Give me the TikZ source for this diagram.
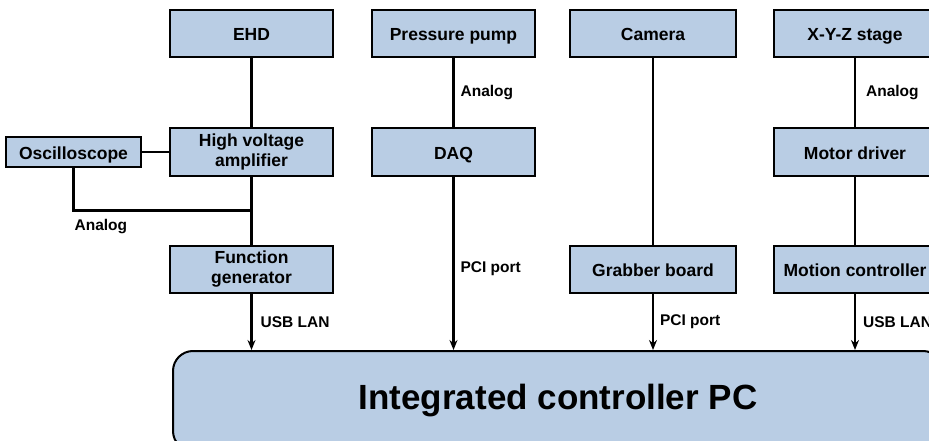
\documentclass[tikz,border=0pt]{standalone}
\usepackage{fontspec}
\setmainfont{Liberation Sans}
\usetikzlibrary{positioning,calc,arrows.meta}
\definecolor{boxblue}{RGB}{185,205,228}
\begin{document}
\begin{tikzpicture}[x=1pt, y=1pt, node distance=117pt]
    % Styles
    \tikzstyle{unit} = [rectangle, draw, line width=2pt, fill=boxblue, 
        align=center, minimum width=163pt, minimum height=47pt, inner sep=2pt,
        text height=17pt, text depth=2pt,
        font=\fontsize{17.5}{19.5}\selectfont\bfseries]
    \tikzstyle{twoline} = [unit, text height=, text depth=]
    \tikzstyle{wideunit} = [unit, minimum width=166pt]
    \tikzstyle{link} = [line width=2.2pt]
    \tikzstyle{arrow} = [line width=2.2pt, -{Stealth[length=10pt, width=8pt]}]
    \tikzstyle{tag} = [font=\fontsize{15.5}{17}\selectfont\bfseries, inner sep=0pt]

    \useasboundingbox (0,0) rectangle (929,-441);

    % === TOP ROW: Devices ===
    \node [unit] (ehd) at (251.5,-33.5) {EHD};
    \node [unit, right of=ehd, xshift=85pt] (pump) {Pressure pump};
    \node [wideunit, right of=pump, xshift=82.5pt] (camera) {Camera};
    \node [unit, right of=camera, xshift=85pt] (stage) {X-Y-Z stage};

    % === MIDDLE ROW ===
    \node [twoline, below of=ehd, yshift=-1.5pt] (amp) {High voltage\\amplifier};
    \node [unit, minimum width=135pt, minimum height=30pt, left=27pt of amp] (scope) {Oscilloscope};
    \node [unit, below of=pump, yshift=-1.5pt] (daq) {DAQ};
    \node [unit, below of=stage, yshift=-1.5pt] (motor) {Motor driver};

    % === BOTTOM ROW: Interfaces ===
    \node [twoline, below of=amp] (funcgen) {Function\\generator};
    \node [wideunit, below of=camera, yshift=-118.5pt] (grabber) {Grabber board};
    \node [unit, below of=motor] (motion) {Motion controller};

    % === PC ===
    \node [unit, anchor=north west, minimum width=770pt, minimum height=100pt, 
        text height=, text depth=,
        rounded corners=20pt, font=\fontsize{35}{40}\selectfont\bfseries] (pc) at (172,-350) {Integrated controller PC};

    % === CONNECTORS ===
    \draw [link] (ehd) -- (amp);
    \draw [link] (scope) -- (amp);
    \draw [link] (amp) -- (funcgen);
    \coordinate (tap) at ($(amp.south)!0.5!(funcgen.north)$);
    \draw [link] (scope.south) |- node[tag, pos=0.5, anchor=north west, yshift=-8pt] {Analog} (tap);
    \draw [link] (pump) -- node[tag, right=6pt] {Analog} (daq);
    \draw [link] (camera) -- (grabber);
    \draw [link] (stage) -- node[tag, right=10pt] {Analog} (motor);
    \draw [link] (motor) -- (motion);

    % === ARROWS into PC ===
    \draw [arrow] (funcgen) -- node[tag, right=8pt] {USB LAN} (pc.north -| funcgen);
    \draw [arrow] (daq) -- node[tag, right=6pt, yshift=-5pt] {PCI port} (pc.north -| daq);
    \draw [arrow] (grabber) -- node[tag, right=6pt] {PCI port} (pc.north -| grabber);
    \draw [arrow] (motion) -- node[tag, right=7pt] {USB LAN} (pc.north -| motion);
\end{tikzpicture}
\end{document}
